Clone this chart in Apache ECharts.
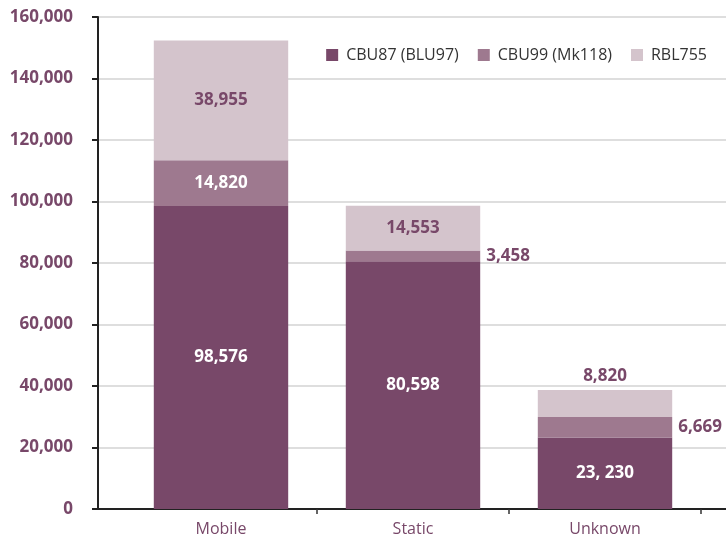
<!DOCTYPE html>
<html>
<head>
<meta charset="utf-8">
<script src="https://cdn.jsdelivr.net/npm/echarts@6/dist/echarts.min.js"></script>
<style>
html,body{margin:0;padding:0;background:#fff;}
#chart{width:726px;height:538px;}
</style>
</head>
<body>
<div id="chart"></div>
<script>
// ---- data ----
const categories = ['Mobile', 'Static', 'Unknown'];
const seriesNames = ['CBU87 (BLU97)', 'CBU99 (Mk118)', 'RBL755'];
const cbu87 = [98576, 80598, 23230];
const cbu99 = [14820, 3458, 6669];
const rbl755 = [38955, 14553, 8820];
const cbu87Labels = ['98,576', '80,598', '23, 230'];
const cbu99Labels = ['14,820', '3,458', '6,669'];
const rbl755Labels = ['38,955', '14,553', '8,820'];
const yTicks = [0, 20000, 40000, 60000, 80000, 100000, 120000, 140000, 160000];

// ---- styling ----
const FONT = "'Open Sans', 'Noto Sans', sans-serif";
const PURPLE = '#784869';
const colors = ['#784869', '#9e798f', '#d4c4cc'];

const chart = echarts.init(document.getElementById('chart'), null, {renderer: 'canvas'});

function buildData(values, labels, labelCfgs) {
  return values.map((v, i) => ({
    value: v,
    label: Object.assign({formatter: labels[i]}, labelCfgs[i])
  }));
}
const inWhite = {position: 'inside', color: '#fff'};
const inPurple = {position: 'inside', color: PURPLE};
const rightPurple = {position: 'right', color: PURPLE, distance: 6};
const topPurple = {position: 'top', color: PURPLE, distance: 5};

const labelBase = {show: true, fontFamily: FONT, fontSize: 17, fontWeight: 'bold'};

const option = {
  backgroundColor: '#fff',
  animation: false,
  color: colors,
  legend: {
    data: seriesNames,
    right: 14,
    top: 42,
    icon: 'rect',
    itemWidth: 12,
    itemHeight: 12,
    itemGap: 19,
    textStyle: {fontFamily: FONT, fontSize: 16, color: '#333', padding: [0, 0, 0, 3]}
  },
  grid: [
    {left: 98, right: 0, top: 17, bottom: 29},
    {left: 125, right: 25, top: 17, bottom: 29}
  ],
  xAxis: [
    {
      type: 'value', gridIndex: 0, min: 0, max: 1,
      axisLine: {show: true, lineStyle: {color: '#222', width: 2}},
      axisTick: {show: false}, axisLabel: {show: false}, splitLine: {show: false}
    },
    {
      type: 'category', gridIndex: 1, data: categories,
      axisLine: {show: false},
      axisTick: {show: true, length: 5, interval: (i) => i > 0, lineStyle: {color: '#333', width: 1.5}},
      axisLabel: {color: PURPLE, fontFamily: FONT, fontSize: 16, margin: 12}
    }
  ],
  yAxis: [
    {
      type: 'value', gridIndex: 0,
      min: yTicks[0], max: yTicks[yTicks.length - 1], interval: yTicks[1] - yTicks[0],
      axisLine: {show: true, lineStyle: {color: '#222', width: 2}},
      axisTick: {show: true, length: 6, lineStyle: {color: '#222', width: 2}},
      axisLabel: {
        color: PURPLE, fontFamily: FONT, fontSize: 17, fontWeight: 'bold', margin: 25,
        formatter: (v) => v.toLocaleString('en-US')
      },
      splitLine: {show: true, lineStyle: {color: '#dedede', width: 2}}
    },
    {
      type: 'value', gridIndex: 1,
      min: yTicks[0], max: yTicks[yTicks.length - 1], show: false
    }
  ],
  series: [
    {
      name: seriesNames[0], type: 'bar', stack: 'total', xAxisIndex: 1, yAxisIndex: 1,
      barWidth: '70%', label: labelBase,
      data: buildData(cbu87, cbu87Labels, [inWhite, inWhite, inWhite])
    },
    {
      name: seriesNames[1], type: 'bar', stack: 'total', xAxisIndex: 1, yAxisIndex: 1,
      barWidth: '70%', label: labelBase,
      data: buildData(cbu99, cbu99Labels, [inWhite, rightPurple, rightPurple])
    },
    {
      name: seriesNames[2], type: 'bar', stack: 'total', xAxisIndex: 1, yAxisIndex: 1,
      barWidth: '70%', label: labelBase,
      data: buildData(rbl755, rbl755Labels, [inPurple, inPurple, topPurple])
    }
  ]
};
chart.setOption(option);
</script>
</body>
</html>
